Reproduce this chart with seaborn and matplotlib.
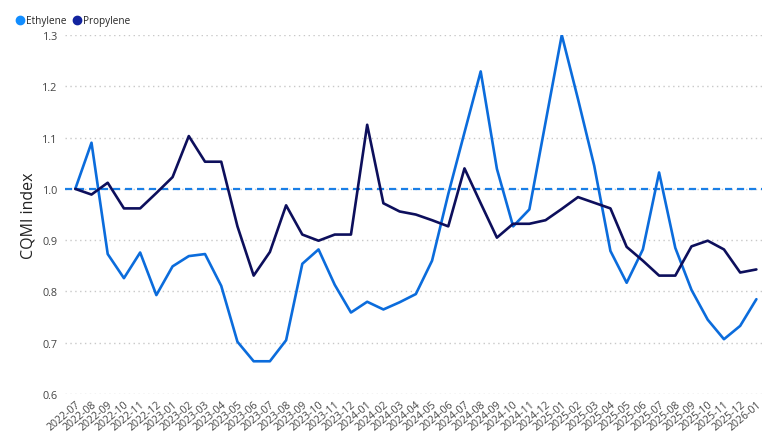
import pandas as pd
import matplotlib.pyplot as plt
import seaborn as sns
from matplotlib.lines import Line2D

months = pd.period_range("2022-07", "2026-01", freq="M").strftime("%Y-%m").tolist()

ethylene = [1.000, 1.090, 0.873, 0.826, 0.876, 0.793, 0.849, 0.869, 0.873, 0.811,
            0.702, 0.664, 0.664, 0.705, 0.854, 0.882, 0.813, 0.759, 0.780, 0.765,
            0.779, 0.795, 0.860, 0.990, 1.110, 1.229, 1.039, 0.927, 0.960, 1.130,
            1.300, 1.175, 1.045, 0.879, 0.817, 0.882, 1.032, 0.885, 0.803, 0.745,
            0.707, 0.733, 0.785]

propylene = [1.000, 0.989, 1.012, 0.962, 0.962, 0.992, 1.023, 1.103, 1.053, 1.053,
             0.927, 0.831, 0.877, 0.968, 0.911, 0.899, 0.911, 0.911, 1.125, 0.972,
             0.956, 0.950, 0.939, 0.927, 1.040, 0.972, 0.905, 0.932, 0.932, 0.939,
             0.961, 0.984, 0.973, 0.962, 0.887, 0.860, 0.831, 0.831, 0.888, 0.899,
             0.882, 0.837, 0.843]

baseline = 1.0
yticks = [0.6, 0.7, 0.8, 0.9, 1.0, 1.1, 1.2, 1.3]

series_names = ["Ethylene", "Propylene"]
line_colors = ["#0b6cdc", "#0d0f5c"]
dot_colors = ["#118DFF", "#12239E"]

df = pd.DataFrame({"Month": months, "Ethylene": ethylene, "Propylene": propylene})
df["idx"] = range(len(df))
long_df = df.melt(id_vars=["Month", "idx"], var_name="Series", value_name="CQMI")

sns.set_theme(style="white")
plt.rcParams["font.family"] = ["Open Sans", "DejaVu Sans"]

fig = plt.figure(figsize=(7.8, 4.39), dpi=100)
ax = fig.add_axes([0.083, 0.100, 0.894, 0.818])

sns.lineplot(data=long_df, x="idx", y="CQMI", hue="Series", hue_order=series_names,
             palette=dict(zip(series_names, line_colors)), linewidth=1.9, ax=ax,
             legend=False)

ax.axhline(baseline, color="#1a7fe6", linestyle=(0, (3.2, 2.2)), linewidth=1.6, zorder=1)

ax.set_ylim(0.6, 1.3)
ax.set_xlim(-0.65, len(months) - 1 + 0.35)
ax.set_yticks(yticks)
ax.set_yticklabels([f"{v:.1f}" for v in yticks])
ax.yaxis.grid(True, linestyle=(0, (1, 2.5)), color="#c8c8c8", linewidth=1.0)
ax.xaxis.grid(False)
for s in ax.spines.values():
    s.set_visible(False)

ax.set_xticks(range(len(months)))
ax.set_xticklabels(months, rotation=40, ha="right", rotation_mode="anchor",
                   fontsize=7.6, color="#444444")
ax.tick_params(axis="y", labelsize=7.8, colors="#444444", length=0, pad=5)
ax.tick_params(axis="x", length=0, pad=3)
ax.set_xlabel("")
ax.set_ylabel("CQMI index", fontsize=11.5, color="#222222", labelpad=4.5)

handles = [Line2D([0], [0], marker="o", linestyle="", markersize=6,
                  markerfacecolor=c, markeredgecolor=c) for c in dot_colors]
fig.legend(handles, series_names, loc="upper left", bbox_to_anchor=(0.014, 0.972),
           ncol=2, frameon=False, fontsize=7.2, handletextpad=0.15, columnspacing=0.5,
           borderaxespad=0, handlelength=1.0)

fig.savefig("out.png", dpi=100, facecolor="white")
